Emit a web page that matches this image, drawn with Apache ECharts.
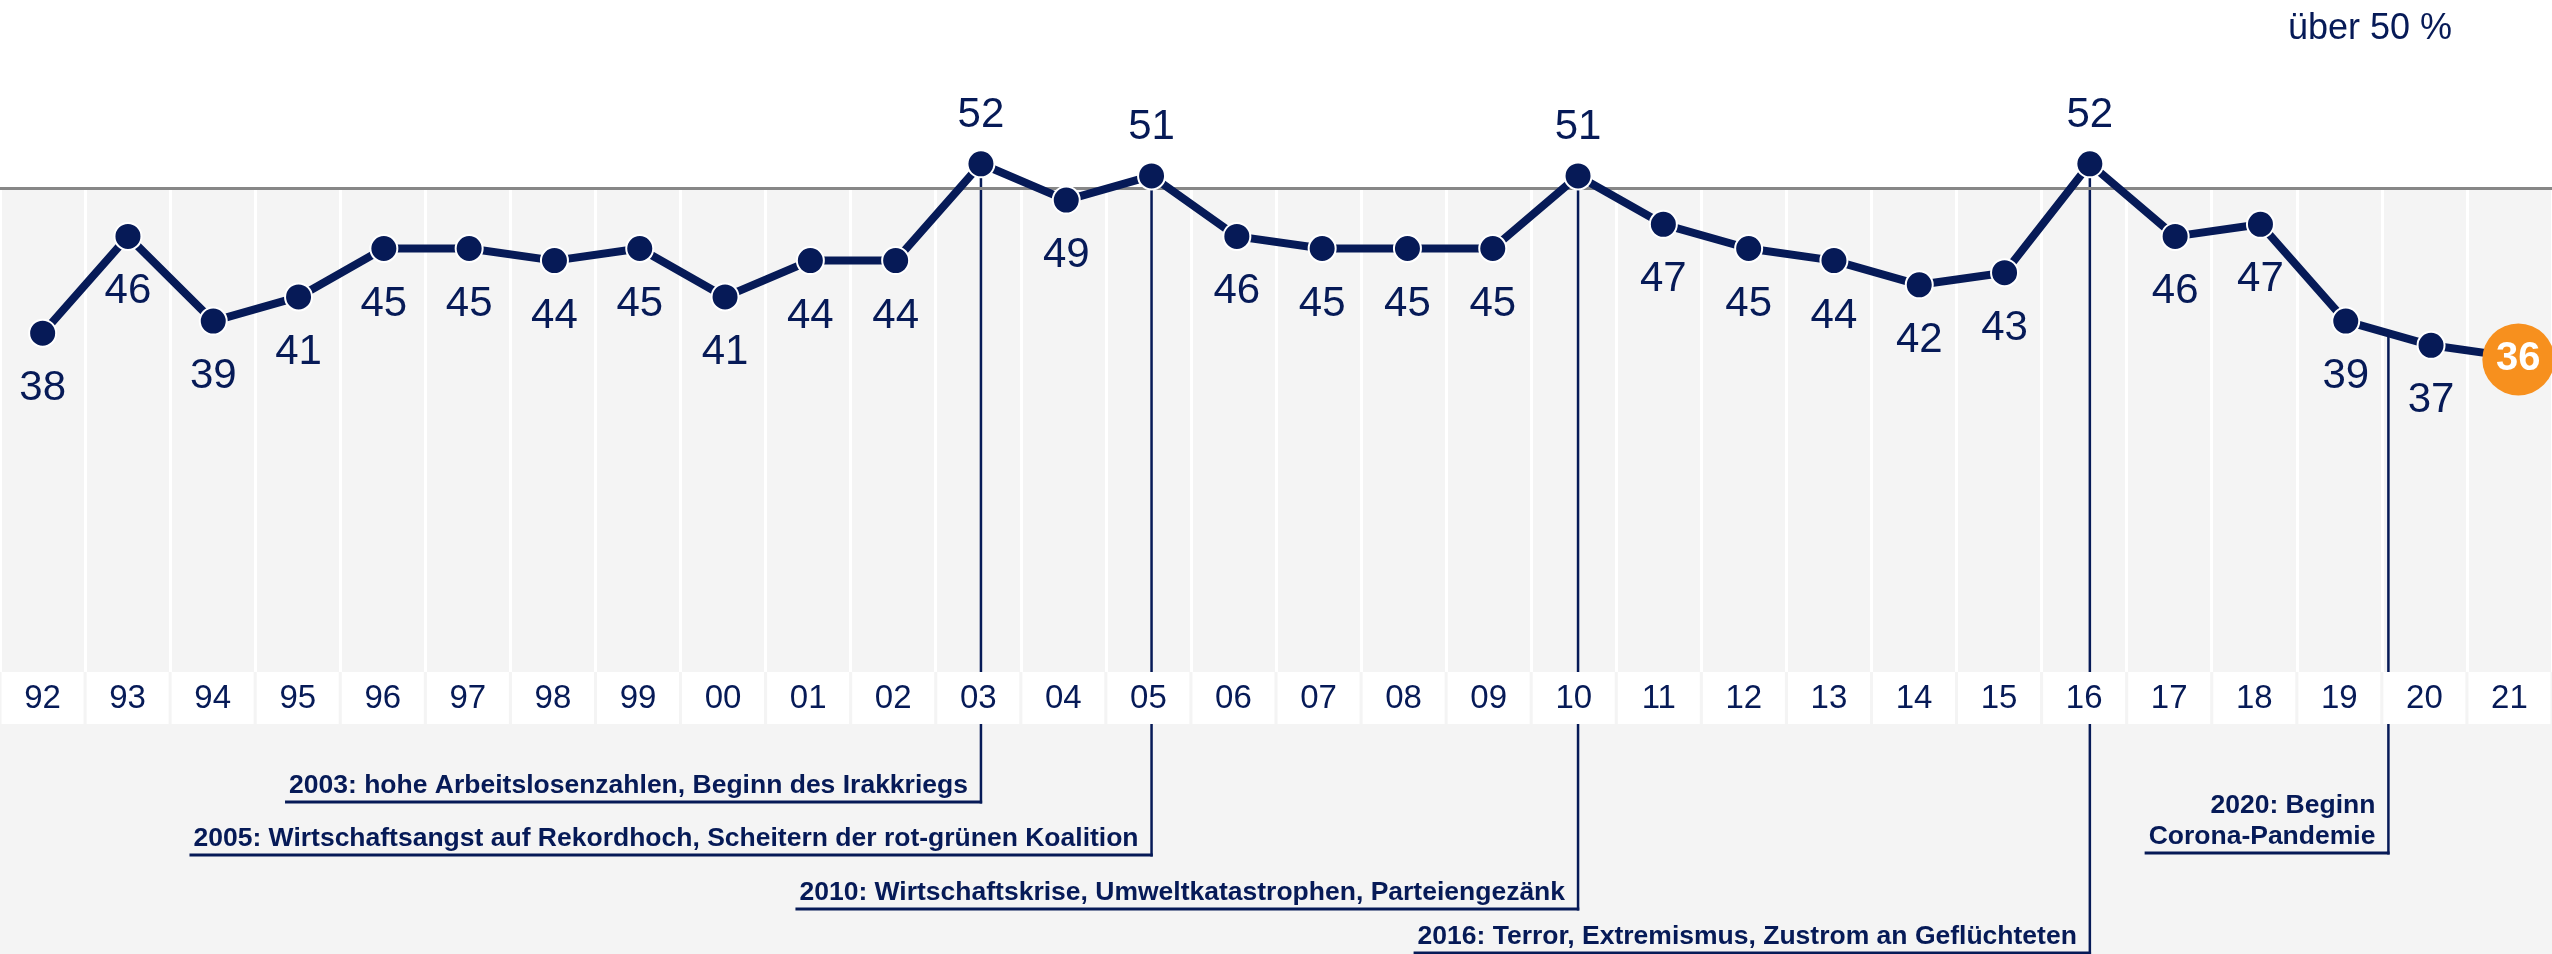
<!DOCTYPE html>
<html><head><meta charset="utf-8">
<script src="https://cdn.jsdelivr.net/npm/echarts@6/dist/echarts.min.js"></script>
<style>html,body{margin:0;padding:0;background:#fff}#c{width:2552px;height:954px}</style>
</head><body><div id="c"></div>
<script>
// ---- data ----
const years = ['92','93','94','95','96','97','98','99','00','01','02','03','04','05','06','07','08','09','10','11','12','13','14','15','16','17','18','19','20','21'];
const lineValues = [38,46,39,41,45,45,44,45,41,44,44,52,49,51,46,45,45,45,51,47,45,44,42,43,52,46,47,39,37,36];
const labelAboveYears = ['03','05','10','16'];
const highlightYear = '21';
const thresholdValue = 50;
const thresholdLabel = 'über 50 %';
const annotationTexts = [
  '2003: hohe Arbeitslosenzahlen, Beginn des Irakkriegs',
  '2005: Wirtschaftsangst auf Rekordhoch, Scheitern der rot-grünen Koalition',
  '2010: Wirtschaftskrise, Umweltkatastrophen, Parteiengezänk',
  '2016: Terror, Extremismus, Zustrom an Geflüchteten',
  '2020: Beginn\nCorona-Pandemie'
];
// category position each annotation refers to (index into years; .5 = between two surveys)
const annotationAnchors = [11, 13, 18, 24, 27.5];

// ---- layout / style ----
const NAVY = '#061a57';
const BG = '#f4f4f4';
const ORANGE = '#f7901e';
const FONT = '"Liberation Sans", Arial, Helvetica, sans-serif';
const GRID_TOP = 188;
const GRID_BOTTOM = 282;
const ANNOT_OFFSETS = [130, 183, 237, 281, 181];
const ANNOT_FONT = 'bold 26.5px ' + FONT;

const mctx = document.createElement('canvas').getContext('2d');
function measure(t) { mctx.font = ANNOT_FONT; return mctx.measureText(t).width; }

const chart = echarts.init(document.getElementById('c'), null, {renderer: 'canvas'});

const seriesData = lineValues.map((v, i) => {
  const y = years[i];
  if (y === highlightYear) {
    return {
      value: v, symbolSize: 72, symbolOffset: [2, 2],
      itemStyle: {color: ORANGE, borderWidth: 0},
      label: {position: 'inside', color: '#fff', fontWeight: 'bold', fontSize: 40, distance: 0}
    };
  }
  if (labelAboveYears.includes(y)) {
    return {value: v, label: {position: 'top', distance: 13}};
  }
  return v;
});

chart.setOption({
  animation: false,
  backgroundColor: '#fff',
  title: {
    text: thresholdLabel, right: 95, top: 6,
    textStyle: {fontSize: 36, fontWeight: 'normal', color: NAVY, fontFamily: FONT}
  },
  graphic: {
    elements: [{
      type: 'rect', left: 0, bottom: 0, z: -10, silent: true,
      shape: {width: 2552, height: GRID_BOTTOM}, style: {fill: BG}
    }]
  },
  grid: [
    {left: 0, right: 0, top: GRID_TOP, bottom: GRID_BOTTOM, show: true, backgroundColor: BG, borderWidth: 0, outerBoundsMode: 'none'},
    {left: 0, right: -7, top: GRID_TOP, bottom: GRID_BOTTOM, show: false, outerBoundsMode: 'none'}
  ],
  xAxis: [
    {
      type: 'category', data: years, boundaryGap: true, z: 2, gridIndex: 0,
      axisLine: {show: false}, axisTick: {show: false},
      splitLine: {show: true, interval: 0, lineStyle: {color: '#ffffff', width: 3}},
      axisLabel: {
        interval: 0, margin: 0, color: NAVY, fontSize: 33, fontFamily: FONT,
        backgroundColor: '#ffffff', width: 82, align: 'center', verticalAlign: 'top',
        lineHeight: 33, padding: [10, 0, 9, 0]
      }
    },
    {
      type: 'category', data: years, boundaryGap: true, gridIndex: 1,
      axisLine: {show: false}, axisTick: {show: false}, axisLabel: {show: false}, splitLine: {show: false}
    }
  ],
  yAxis: [
    {type: 'value', min: 10, max: 50, show: false, splitLine: {show: false}, gridIndex: 0},
    {type: 'value', min: 10, max: 50, show: false, splitLine: {show: false}, gridIndex: 1}
  ],
  series: [
    {
      type: 'custom', z: 1, silent: true, clip: false, xAxisIndex: 1, yAxisIndex: 1,
      data: annotationAnchors.map((a, i) => [a, i]),
      renderItem: (params, api) => {
        const i = params.dataIndex;
        const a = annotationAnchors[i];
        const i0 = Math.floor(a), t = a - i0;
        const p0 = api.coord([i0, lineValues[i0]]);
        let x = p0[0], y = p0[1];
        if (t > 0) {
          const p1 = api.coord([i0 + 1, lineValues[i0 + 1]]);
          x += t * (p1[0] - p0[0]);
          y += t * (p1[1] - p0[1]);
        }
        const cs = params.coordSys;
        const uy = cs.y + cs.height + ANNOT_OFFSETS[i];
        const text = annotationTexts[i];
        const w = Math.max.apply(null, text.split('\n').map(measure));
        const right = x - 13;
        return {
          type: 'group',
          children: [
            {type: 'line', shape: {x1: x, y1: y, x2: x, y2: uy + 1.5}, style: {stroke: NAVY, lineWidth: 2.5}},
            {type: 'line', shape: {x1: right - w - 4, y1: uy, x2: x + 1.2, y2: uy}, style: {stroke: NAVY, lineWidth: 3}},
            {type: 'text', style: {
              text: text, x: right, y: uy - 1,
              textAlign: 'right', textVerticalAlign: 'bottom', align: 'right', verticalAlign: 'bottom',
              font: ANNOT_FONT, fill: NAVY, lineHeight: 31
            }}
          ]
        };
      }
    },
    {
      type: 'line', z: 3, clip: false, silent: true, xAxisIndex: 1, yAxisIndex: 1,
      data: seriesData,
      symbol: 'circle', symbolSize: 27,
      itemStyle: {color: NAVY, borderColor: '#ffffff', borderWidth: 2},
      lineStyle: {color: NAVY, width: 8},
      label: {show: true, position: 'bottom', distance: 20, fontSize: 42, color: NAVY, fontFamily: FONT},
      emphasis: {disabled: true},
      markLine: {
        z: 2.5, silent: true, symbol: ['none', 'none'], label: {show: false},
        lineStyle: {color: '#878787', width: 3, type: 'solid'},
        data: [{yAxis: thresholdValue}]
      }
    }
  ]
});
</script></body></html>
